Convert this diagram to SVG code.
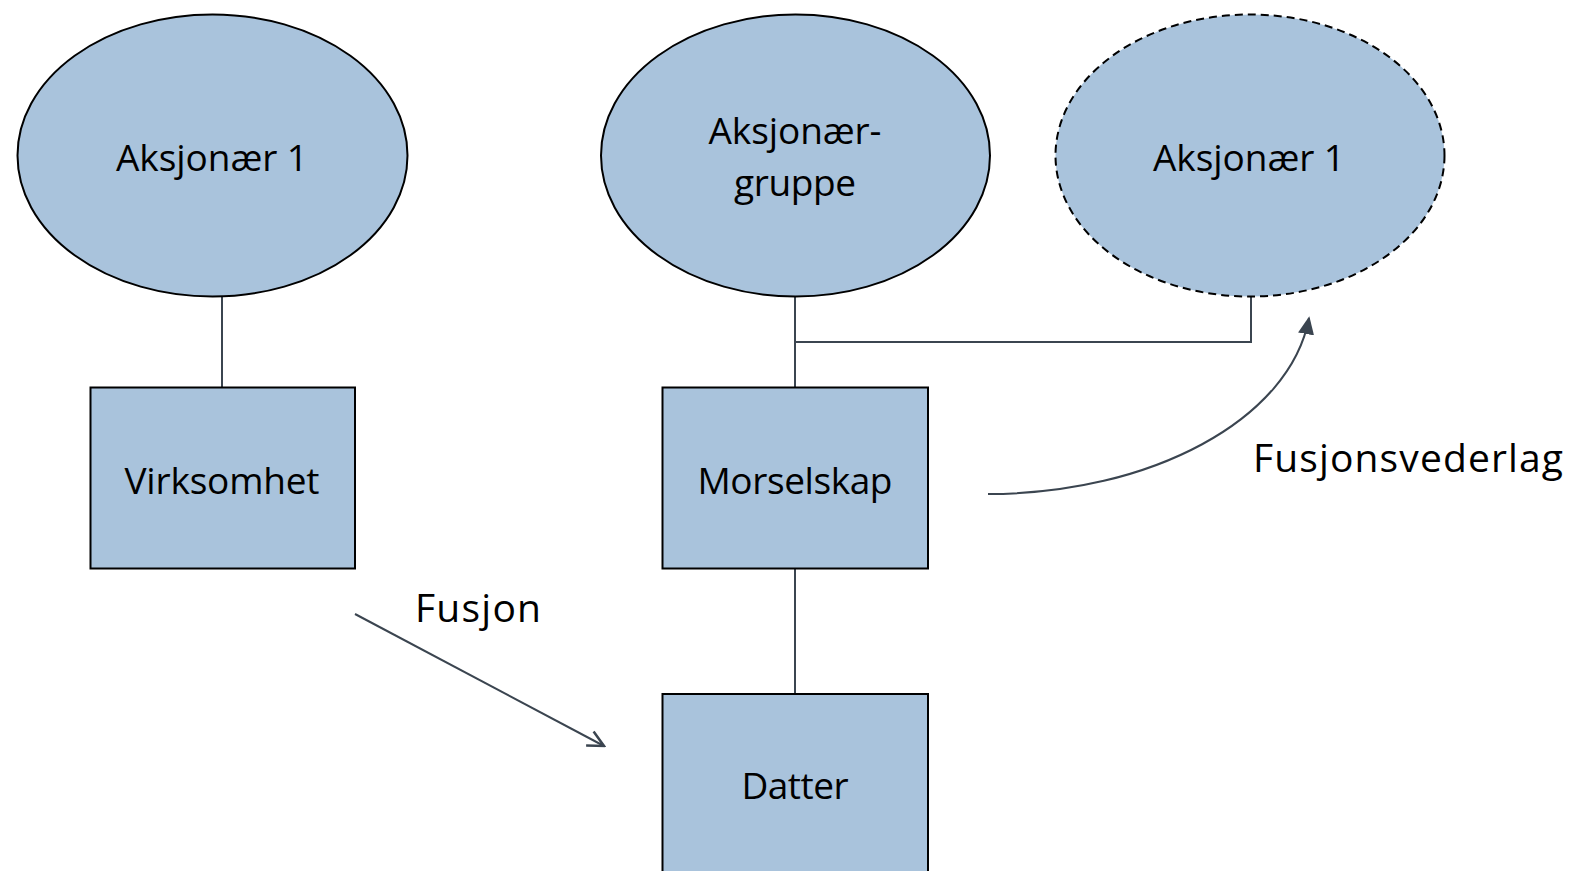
<svg xmlns="http://www.w3.org/2000/svg" width="1573" height="871" viewBox="0 0 1573 871">
<style>
.shape{fill:#a9c3dc;stroke:#000;stroke-width:2}
.dash{stroke-dasharray:8 5}
.conn{fill:none;stroke:#3b4550;stroke-width:2}
text{font-family:"Open Sans","Liberation Sans",sans-serif;font-size:37px;fill:#000;text-anchor:middle}
.lbl{font-size:39px}
</style>
<defs>
<marker id="open" viewBox="0 0 20 20" refX="18" refY="10" markerWidth="20" markerHeight="20" markerUnits="userSpaceOnUse" orient="auto">
<path d="M2,2 L18,10 L2,18" fill="none" stroke="#3b4550" stroke-width="2.5"/>
</marker>
<marker id="solid" viewBox="0 0 20 20" refX="18" refY="10" markerWidth="18" markerHeight="18" markerUnits="userSpaceOnUse" orient="auto">
<path d="M0,1 L20,10 L0,19 Z" fill="#3b4550"/>
</marker>
</defs>
<g id="connectors">
<line class="conn" x1="222" y1="297" x2="222" y2="387"/>
<line class="conn" x1="795" y1="297" x2="795" y2="387"/>
<polyline class="conn" points="795,342 1251,342 1251,297"/>
<line class="conn" x1="795" y1="569" x2="795" y2="694"/>
<path class="conn" d="M988,494 C1150,494 1290,420 1309,318" marker-end="url(#solid)"/>
<line class="conn" x1="355" y1="614" x2="604" y2="746" marker-end="url(#open)"/>
</g>
<g id="n-aksjonaer1">
<ellipse class="shape" cx="212.5" cy="155.5" rx="195" ry="141"/>
<text x="212" y="171" textLength="192">Aksjonær 1</text>
</g>
<g id="n-aksjonaergruppe">
<ellipse class="shape" cx="795.5" cy="155.5" rx="194.5" ry="141"/>
<text x="795" y="144" textLength="173">Aksjonær-</text>
<text x="795" y="196" textLength="122">gruppe</text>
</g>
<g id="n-aksjonaer1b">
<ellipse class="shape dash" cx="1250" cy="155.5" rx="194.5" ry="141"/>
<text x="1249" y="171" textLength="192">Aksjonær 1</text>
</g>
<g id="n-virksomhet">
<rect class="shape" x="90.5" y="387.5" width="264.5" height="181"/>
<text x="222" y="494" textLength="195">Virksomhet</text>
</g>
<g id="n-morselskap">
<rect class="shape" x="662.5" y="387.5" width="265.5" height="181"/>
<text x="795" y="494" textLength="195">Morselskap</text>
</g>
<g id="n-datter">
<rect class="shape" x="662.5" y="694" width="265.5" height="190"/>
<text x="795" y="799" textLength="107">Datter</text>
</g>
<g id="labels">
<text class="lbl" x="478" y="622" textLength="126">Fusjon</text>
<text class="lbl" x="1408" y="472" textLength="310">Fusjonsvederlag</text>
</g>
</svg>
